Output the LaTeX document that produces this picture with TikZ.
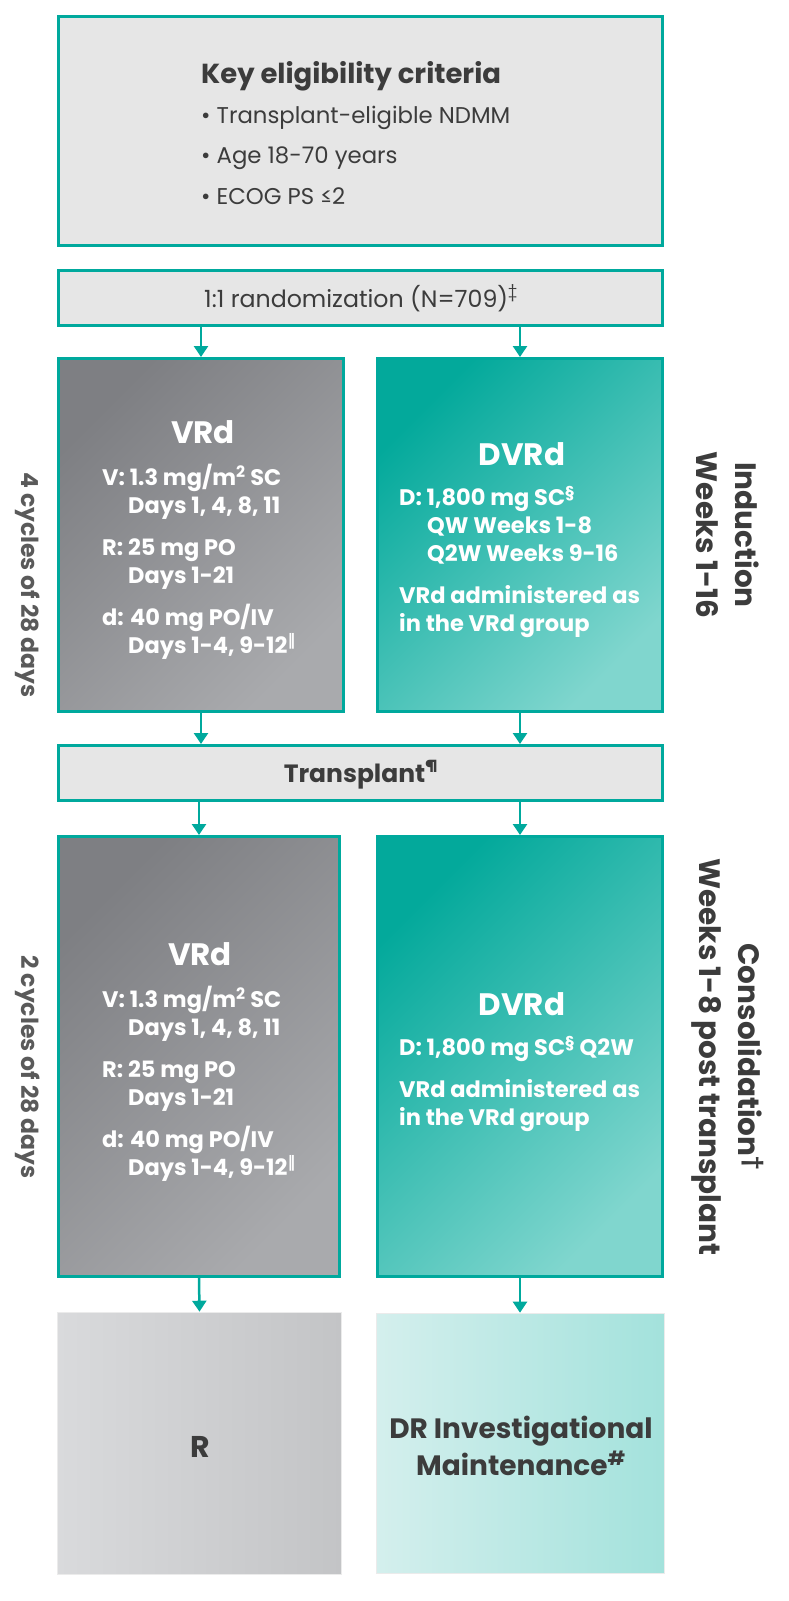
\documentclass[tikz,border=0pt]{standalone}
\usepackage{fontspec}
\setmainfont{Poppins}
\newfontfamily\marksfont{DejaVu Sans}
\usetikzlibrary{arrows.meta}

\definecolor{trialteal}{HTML}{00A99D}
\definecolor{critgray}{HTML}{E6E6E6}
\definecolor{inkgray}{HTML}{3C3C3C}
\definecolor{sidegray}{HTML}{5A5A5A}
\definecolor{vrddark}{HTML}{7E7F83}
\definecolor{vrdlight}{HTML}{A9AAAD}
\definecolor{dvrddark}{HTML}{03A99B}
\definecolor{dvrdlight}{HTML}{80D6CE}
\definecolor{rleft}{HTML}{D9DADC}
\definecolor{rright}{HTML}{C3C4C6}
\definecolor{drleft}{HTML}{D4EFED}
\definecolor{drright}{HTML}{A3E2DC}

\newcommand{\dosefont}{\fontsize{22.5}{28}\selectfont\bfseries}
\newcommand{\armtitle}{\fontsize{31}{31}\selectfont\bfseries}
\newcommand{\sidefont}{\fontsize{29.5}{39}\selectfont\bfseries}
\newcommand{\dd}{\hspace*{26pt}}

\begin{document}
\begin{tikzpicture}[x=1pt,y=-1pt,
    framebox/.style={draw=trialteal, line width=3pt, fill=critgray, inner sep=0pt},
    armbox/.style={draw=trialteal, line width=3pt, inner sep=0pt},
    vrdfill/.style={left color=vrddark, right color=vrdlight, shading angle=45},
    dvrdfill/.style={left color=dvrddark, right color=dvrdlight, shading angle=45},
    armtitle/.style={anchor=base, text=white, font=\armtitle, inner sep=0pt},
    dose/.style={anchor=base west, align=left, text=white, font=\dosefont, inner sep=0pt},
    phase/.style={rotate=-90, align=center, text=inkgray, font=\sidefont, inner sep=0pt},
    cycles/.style={rotate=-90, text=sidegray, font=\fontsize{23.5}{27}\selectfont\bfseries, inner sep=0pt},
    flow/.style={draw=trialteal, line width=2.5pt, -{Triangle[width=14pt,length=11pt]}}
]
    \useasboundingbox (0,0) rectangle (789,1601);

    % eligibility and randomization
    \node[framebox, minimum width=604pt, minimum height=229pt] (crit) at (360.5,131) {};
    \node[anchor=base west, align=left, text=inkgray, inner sep=0pt,
          font=\fontsize{22.8}{40.3}\selectfont] (critText) at (201,204)
        {{\fontsize{27.5}{40.3}\selectfont\bfseries Key eligibility criteria}\\
         • Transplant-eligible NDMM\\
         • Age 18-70 years\\
         • ECOG PS ≤2};

    \node[framebox, minimum width=604pt, minimum height=55pt] (rand) at (360.5,298) {};
    \node[anchor=base, text=inkgray, inner sep=0pt, font=\fontsize{23.7}{26}\selectfont] (randText) at (361,307)
        {1:1 randomization (N=709)\textsuperscript{‡}};

    % induction
    \node[armbox, vrdfill, minimum width=285pt, minimum height=353pt] (vrdA) at (201,535) {};
    \node[armtitle] (vrdAtitle) at (203,443) {VRd};
    \node[dose] (vrdAdose) at (102,653)
        {V: 1.3 mg/m\textsuperscript{2} SC\\ \dd Days 1, 4, 8, 11\\[14pt]
         R: 25 mg PO\\ \dd Days 1-21\\[14pt]
         d: 40 mg PO/IV\\ \dd Days 1-4, 9-12\textsuperscript{\marksfont ‖}};

    \node[armbox, dvrdfill, minimum width=285pt, minimum height=353pt] (dvrdA) at (520,535) {};
    \node[armtitle] (dvrdAtitle) at (522,465) {DVRd};
    \node[dose] (dvrdAdose) at (399,631)
        {D: 1,800 mg SC\textsuperscript{§}\\ \hspace*{28pt}QW Weeks 1-8\\ \hspace*{28pt}Q2W Weeks 9-16\\[14pt]
         VRd administered as\\ in the VRd group};

    \node[cycles] (cyclesA) at (28,585) {4 cycles of 28 days};
    \node[phase] (induction) at (727.5,535) {Induction\\Weeks 1-16};

    % transplant
    \node[framebox, minimum width=604pt, minimum height=55pt] (trans) at (360.5,773) {};
    \node[anchor=base, text=inkgray, inner sep=0pt, font=\fontsize{25}{30}\selectfont\bfseries] (transText) at (361,782)
        {Transplant\textsuperscript{¶}};

    % consolidation
    \node[armbox, vrdfill, minimum width=281pt, minimum height=440pt] (vrdB) at (199,1056.5) {};
    \node[armtitle] (vrdBtitle) at (200,965) {VRd};
    \node[dose] (vrdBdose) at (102,1175)
        {V: 1.3 mg/m\textsuperscript{2} SC\\ \dd Days 1, 4, 8, 11\\[14pt]
         R: 25 mg PO\\ \dd Days 1-21\\[14pt]
         d: 40 mg PO/IV\\ \dd Days 1-4, 9-12\textsuperscript{\marksfont ‖}};

    \node[armbox, dvrdfill, minimum width=285pt, minimum height=440pt] (dvrdB) at (520,1056.5) {};
    \node[armtitle] (dvrdBtitle) at (522,1015) {DVRd};
    \node[dose] (dvrdBdose) at (399,1125)
        {D: 1,800 mg SC\textsuperscript{§} Q2W\\[14pt]
         VRd administered as\\ in the VRd group};

    \node[cycles] (cyclesB) at (28,1067) {2 cycles of 28 days};
    \node[phase] (consolidation) at (727.5,1057) {Consolidation\textsuperscript{†}\\Weeks 1-8 post transplant};

    % maintenance
    \node[draw=white!92!black, line width=0.6pt, left color=rleft, right color=rright,
          minimum width=284pt, minimum height=262pt] (rmaint) at (199.5,1443) {};
    \node[anchor=base, text=inkgray, inner sep=0pt, font=\fontsize{30}{30}\selectfont\bfseries] (rText) at (200,1457) {R};

    \node[draw=white!92!black, line width=0.6pt, left color=drleft, right color=drright,
          minimum width=288pt, minimum height=260pt] (drmaint) at (520,1443) {};
    \node[anchor=base, align=center, text=inkgray, inner sep=0pt, font=\fontsize{28}{37}\selectfont\bfseries] (drText) at (521,1475)
        {DR Investigational\\Maintenance\textsuperscript{\#}};

    % connectors
    \draw[flow] (vrdA.north |- rand.south) -- (vrdA.north);
    \draw[flow] (dvrdA.north |- rand.south) -- (dvrdA.north);
    \draw[flow] (vrdA.south) -- (vrdA.south |- trans.north);
    \draw[flow] (dvrdA.south) -- (dvrdA.south |- trans.north);
    \draw[flow] (vrdB.north |- trans.south) -- (vrdB.north);
    \draw[flow] (dvrdB.north |- trans.south) -- (dvrdB.north);
    \draw[flow] (vrdB.south) -- (rmaint.north);
    \draw[flow] (dvrdB.south) -- (drmaint.north);

\end{tikzpicture}
\end{document}
